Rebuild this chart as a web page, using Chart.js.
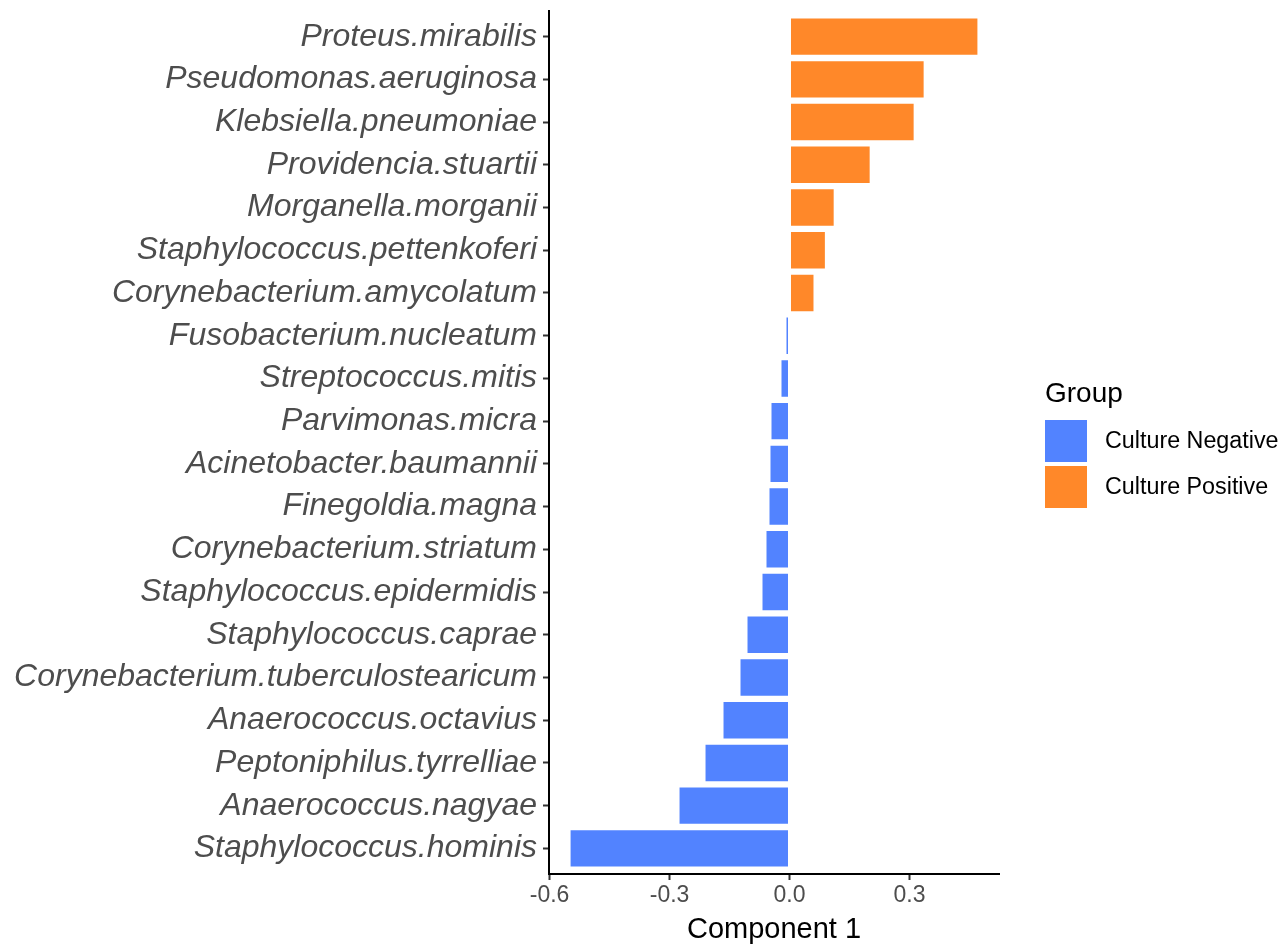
<!DOCTYPE html>
<html>
<head>
<meta charset="utf-8">
<script src="https://cdn.jsdelivr.net/npm/chart.js@4"></script>
<style>
  body { margin: 0; background: #fff; }
  canvas { display: block; }
</style>
</head>
<body>
<canvas id="grafico" width="1281" height="944"></canvas>
<script>
const especies = [
  "Proteus.mirabilis", "Pseudomonas.aeruginosa", "Klebsiella.pneumoniae",
  "Providencia.stuartii", "Morganella.morganii", "Staphylococcus.pettenkoferi",
  "Corynebacterium.amycolatum", "Fusobacterium.nucleatum", "Streptococcus.mitis",
  "Parvimonas.micra", "Acinetobacter.baumannii", "Finegoldia.magna",
  "Corynebacterium.striatum", "Staphylococcus.epidermidis", "Staphylococcus.caprae",
  "Corynebacterium.tuberculostearicum", "Anaerococcus.octavius",
  "Peptoniphilus.tyrrelliae", "Anaerococcus.nagyae", "Staphylococcus.hominis",
];
const valores = [
  0.4725, 0.338, 0.313, 0.203, 0.113, 0.091, 0.0625,
  -0.010, -0.0225, -0.0475, -0.050, -0.0525, -0.060, -0.070,
  -0.1075, -0.125, -0.1675, -0.2125, -0.2775, -0.550,
];
const grupos = [
  "Culture Positive", "Culture Positive", "Culture Positive", "Culture Positive",
  "Culture Positive", "Culture Positive", "Culture Positive",
  "Culture Negative", "Culture Negative", "Culture Negative", "Culture Negative",
  "Culture Negative", "Culture Negative", "Culture Negative", "Culture Negative",
  "Culture Negative", "Culture Negative", "Culture Negative", "Culture Negative",
  "Culture Negative",
];
const nomesGrupos = ["Culture Negative", "Culture Positive"];
const coresGrupos = ["#5283FF", "#FF8829"];
const xTicks = [-0.6, -0.3, 0.0, 0.3];

const fonte = "'Liberation Sans', Arial, Helvetica, sans-serif";

// legenda desenhada a mao, estilo ggplot
const legendaGrupo = {
  id: "legendaGrupo",
  afterDraw(chart) {
    const ctx = chart.ctx;
    ctx.save();
    ctx.fillStyle = "#000";
    ctx.textAlign = "left";
    ctx.textBaseline = "alphabetic";
    ctx.font = "28px " + fonte;
    ctx.fillText("Group", 1045, 402);
    ctx.font = "23.3px " + fonte;
    ctx.textBaseline = "middle";
    nomesGrupos.forEach((g, i) => {
      let y = 420 + i * 46;
      ctx.fillStyle = coresGrupos[i];
      ctx.fillRect(1045, y, 42, 42);
      ctx.fillStyle = "#000";
      ctx.fillText(g, 1105, y + 22);
    });
    ctx.restore();
  },
};

let grafico = new Chart(document.getElementById("grafico"), {
  type: "bar",
  data: {
    datasets: [
      {
        data: valores.map((v, i) => ({ x: v, y: i + 1 })),
        backgroundColor: grupos.map((g) => coresGrupos[nomesGrupos.indexOf(g)]),
        borderColor: "rgba(255,255,255,0.7)",
        borderWidth: 1,
        borderSkipped: false,
        barPercentage: 0.9,
        categoryPercentage: 1.0,
      },
    ],
  },
  options: {
    indexAxis: "y",
    responsive: false,
    animation: false,
    layout: { padding: { top: 11, right: 282, left: 0, bottom: 0 } },
    plugins: {
      legend: { display: false },
      tooltip: { enabled: false },
    },
    scales: {
      y: {
        type: "linear",
        min: 0.4,
        max: 20.6,
        reverse: true,
        offset: false,
        afterBuildTicks: (s) => {
          s.ticks = especies.map((e, i) => ({ value: i + 1 }));
        },
        afterFit: (s) => {
          s.width = 549;
          s.paddingTop = 0;
          s.paddingBottom = 0;
        },
        border: { display: true, color: "#000", width: 2 },
        grid: {
          display: true,
          offset: false,
          drawOnChartArea: false,
          drawTicks: true,
          tickLength: 6,
          tickColor: "#333",
          tickWidth: 2,
        },
        ticks: {
          autoSkip: false,
          padding: 6,
          color: "#4D4D4D",
          font: { family: fonte, size: 32, style: "italic" },
          callback: (v) => especies[v - 1],
        },
      },
      x: {
        type: "linear",
        min: -0.6015,
        max: 0.524,
        afterBuildTicks: (s) => {
          s.ticks = xTicks.map((t) => ({ value: t }));
        },
        afterFit: (s) => {
          s.height = 70;
          s.paddingLeft = 0;
          s.paddingRight = 0;
        },
        border: { display: true, color: "#000", width: 2 },
        grid: {
          display: true,
          drawOnChartArea: false,
          drawTicks: true,
          tickLength: 6,
          tickColor: "#333",
          tickWidth: 2,
        },
        ticks: {
          autoSkip: false,
          maxRotation: 0,
          padding: 2,
          color: "#4D4D4D",
          font: { family: fonte, size: 23 },
          callback: (v) => v.toFixed(1),
        },
        title: {
          display: true,
          text: "Component 1",
          color: "#000",
          font: { family: fonte, size: 29 },
          padding: { top: 0, bottom: -3 },
        },
      },
    },
  },
  plugins: [legendaGrupo],
});
</script>
</body>
</html>
